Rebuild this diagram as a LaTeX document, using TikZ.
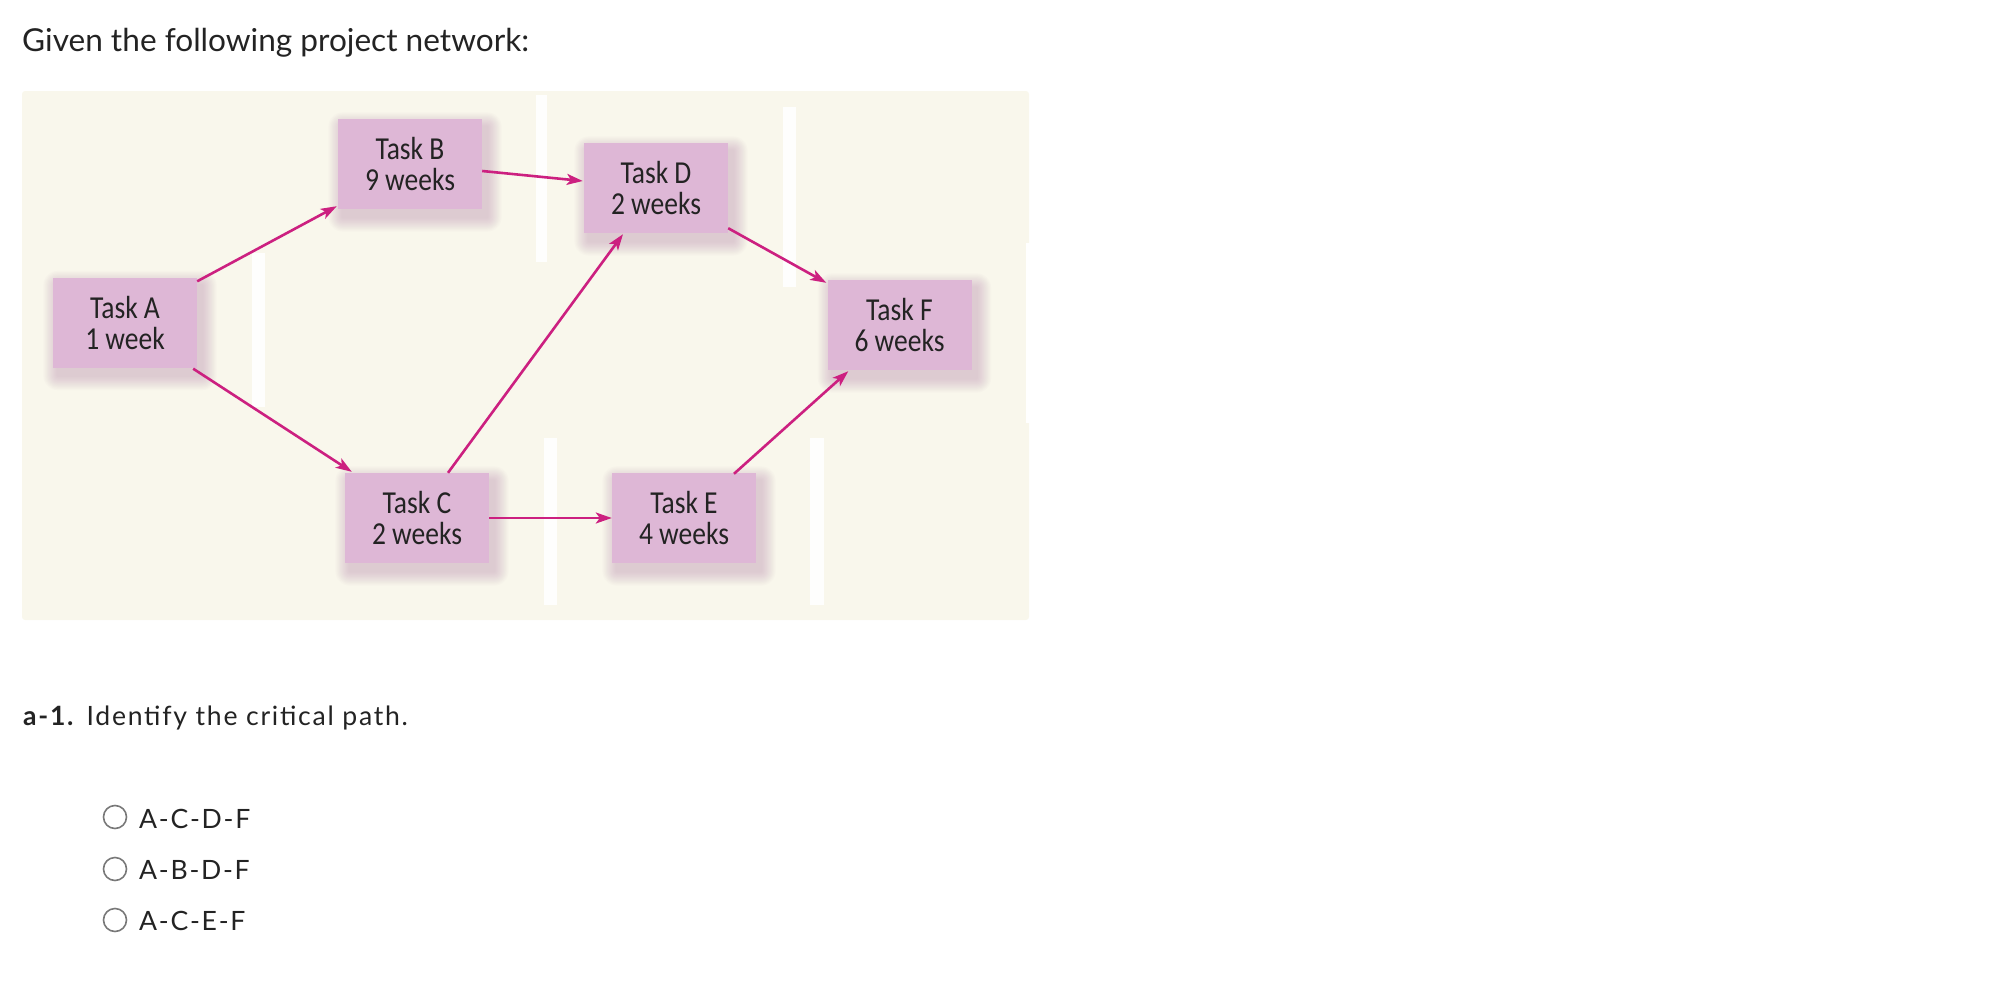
\documentclass[tikz,border=0pt]{standalone}
\usepackage{fontspec}
\setmainfont{Lato}
\newfontfamily\qfont[LetterSpace=6.5]{Lato}
\newfontfamily\diafont[FakeStretch=0.86]{Carlito}
\usetikzlibrary{arrows.meta,calc,backgrounds}
\definecolor{panelc}{RGB}{249,247,236}
\definecolor{boxc}{RGB}{222,183,214}
\definecolor{arrowc}{RGB}{204,32,128}
\definecolor{shadowc}{RGB}{175,120,165}
\definecolor{txtc}{RGB}{35,35,35}
\definecolor{radioc}{RGB}{120,120,120}
\begin{document}
\begin{tikzpicture}[x=1pt,y=-1pt,
  task/.style={fill=boxc, minimum width=144pt, minimum height=90pt, inner sep=0pt,
    align=center, text=txtc, font=\diafont\fontsize{32}{31}\selectfont},
  link/.style={draw=arrowc, line width=2.6pt, -{Stealth[length=16pt,width=11pt,inset=4pt]}},
  stripe/.style={fill=white, opacity=0.9},
  bodytext/.style={anchor=base west, inner sep=0pt, text=txtc},
  qtext/.style={bodytext, font=\qfont\fontsize{26.6}{27}\selectfont},
  radiobtn/.style={circle, draw=radioc, line width=1.6pt, minimum size=23pt, inner sep=0pt}]
\useasboundingbox (0,0) rectangle (2004,982);

% heading
\node[bodytext, font=\fontsize{31.6}{32}\selectfont] (title) at (22,52) {Given the following project network:};

% task nodes
\node[task] (A) at (125,322.5) {Task A\\1 week};
\node[task] (B) at (410,164) {Task B\\9 weeks};
\node[task] (C) at (417,518) {Task C\\2 weeks};
\node[task] (D) at (656,188) {Task D\\2 weeks};
\node[task] (E) at (684,518) {Task E\\4 weeks};
\node[task] (F) at (899.5,325) {Task F\\6 weeks};

\begin{scope}[on background layer]
  \fill[panelc, rounded corners=3pt] (22,91) rectangle (1029,620);
  \fill[stripe] (252,253) rectangle (265,407);
  \fill[stripe] (536,95) rectangle (547,262);
  \fill[stripe] (783,107) rectangle (796,287);
  \fill[stripe] (544,438) rectangle (557,605);
  \fill[stripe] (810,438) rectangle (824,605);
  \fill[white] (1026,243) rectangle (1029.5,423);
  \foreach \n in {A,B,C,D,E,F}{
    \foreach \k in {1,...,12}{
      \fill[shadowc, opacity=0.03, rounded corners=1.2*\k]
        ($(\n.north west)+(5-1.2*\k,8-1.2*\k)$) rectangle ($(\n.south east)+(5+1.2*\k,8+1.2*\k)$);
    }
  }
\end{scope}

% connectors
\draw[link] ($(A.north east)+(0,4)$) -- ($(B.south west)+(-1,-3)$);
\draw[link] ($(A.south east)+(-4,1)$) -- ($(C.north west)+(7,-1)$);
\draw[link] ($(B.east)+(0,7)$) -- ($(D.west)+(-1,-7)$);
\draw[link] ($(C.north)+(31,0)$) -- ($(D.south)+(-33,1)$);
\draw[link] (C.east) -- (E.west);
\draw[link] ($(D.south east)+(0,-5)$) -- ($(F.north west)+(-1,3)$);
\draw[link] ($(E.north)+(50,1)$) -- ($(F.south west)+(21,1)$);

% question
\node[qtext] (q) at (23,725) {\textbf{a-1.} Identify the critical path.};

\node[radiobtn] (r1) at (115,817) {};
\node[radiobtn] (r2) at (115,869) {};
\node[radiobtn] (r3) at (115,920) {};
\node[qtext] (o1) at (139,828) {A-C-D-F};
\node[qtext] (o2) at (139,879) {A-B-D-F};
\node[qtext] (o3) at (139,930) {A-C-E-F};
\end{tikzpicture}
\end{document}
